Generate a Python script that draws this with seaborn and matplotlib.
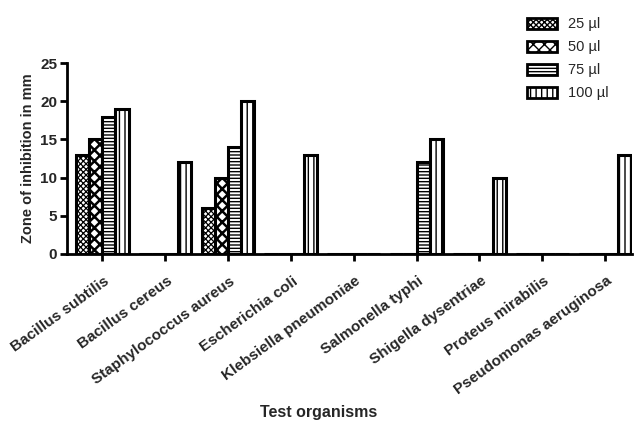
import matplotlib
matplotlib.use('Agg')
import matplotlib.pyplot as plt
import matplotlib.patches as mpatches
from matplotlib.transforms import ScaledTranslation
import pandas as pd
import seaborn as sns

# Zone of inhibition (mm) per organism and extract volume
organisms = ['Bacillus subtilis', 'Bacillus cereus', 'Staphylococcus aureus',
             'Escherichia coli', 'Klebsiella pneumoniae', 'Salmonella typhi',
             'Shigella dysentriae', 'Proteus mirabilis', 'Pseudomonas aeruginosa']
volumes = ['25 µl', '50 µl', '75 µl', '100 µl']
zone_25 = [13, 0, 6, 0, 0, 0, 0, 0, 0]
zone_50 = [15, 0, 10, 0, 0, 0, 0, 0, 0]
zone_75 = [18, 0, 14, 0, 0, 12, 0, 0, 0]
zone_100 = [19, 12, 20, 13, 0, 15, 10, 0, 13]

rows = []
for vol, vals in zip(volumes, [zone_25, zone_50, zone_75, zone_100]):
    for org, v in zip(organisms, vals):
        rows.append({'organism': org, 'volume': vol, 'zone': v})
df = pd.DataFrame(rows)

sns.set_style('ticks')
plt.rcParams['font.family'] = ['Liberation Sans', 'DejaVu Sans']
plt.rcParams['hatch.linewidth'] = 1.0

hatches = ['xxxxxx', 'xxx', '-----', '|||']
hatch_lw = [0.9, 1.8, 1.0, 1.0]


def style_patch(p, h, lw):
    p.set_facecolor('white')
    p.set_hatch(h)
    try:
        p.set_hatch_linewidth(lw)
    except AttributeError:
        pass


fig = plt.figure(figsize=(6.35, 4.21), dpi=100)
ax = fig.add_axes([0.1055, 0.397, 0.889, 0.453])
sns.barplot(data=df, x='organism', y='zone', hue='volume', order=organisms,
            hue_order=volumes, color='white', edgecolor='black', linewidth=2.2,
            width=0.84, saturation=1, ax=ax, legend=False)
for cont, h, lw in zip(ax.containers, hatches, hatch_lw):
    for bar in cont:
        style_patch(bar, h, lw)

ax.set_xlim(-0.56, 8.42)
ax.set_ylim(0, 25)
ax.set_yticks([0, 5, 10, 15, 20, 25])
sns.despine(ax=ax)
for s in ['left', 'bottom']:
    ax.spines[s].set_linewidth(2)
    ax.spines[s].set_color('black')
ax.tick_params(axis='both', width=2, length=5, color='black')
ax.tick_params(axis='y', labelsize=11, pad=2)
for lab in ax.get_yticklabels():
    lab.set_fontweight('bold')
ax.set_xticks(range(len(organisms)))
ax.set_xticklabels(organisms, rotation=36, ha='right', va='top',
                   rotation_mode='anchor', fontweight='bold', fontsize=11)
shift = ScaledTranslation(1 / 72, -6 / 72, fig.dpi_scale_trans)
for lab in ax.get_xticklabels():
    lab.set_transform(lab.get_transform() + shift)
ax.set_ylabel('Zone of inhibition in mm', fontweight='bold', fontsize=10.5)
ax.set_xlabel('Test organisms', fontweight='bold', fontsize=11.5)
ax.xaxis.set_label_coords(0.446, -0.79)

handles = []
for h, lw in zip(hatches, hatch_lw):
    p = mpatches.Patch(facecolor='white', edgecolor='black', linewidth=2)
    style_patch(p, h, lw)
    handles.append(p)
fig.legend(handles, volumes, loc='upper left', bbox_to_anchor=(0.81, 0.99),
           frameon=False, fontsize=10.5, handlelength=2.0, handleheight=0.8,
           labelspacing=0.62, handletextpad=0.8)

fig.savefig('out.png', dpi=100)
